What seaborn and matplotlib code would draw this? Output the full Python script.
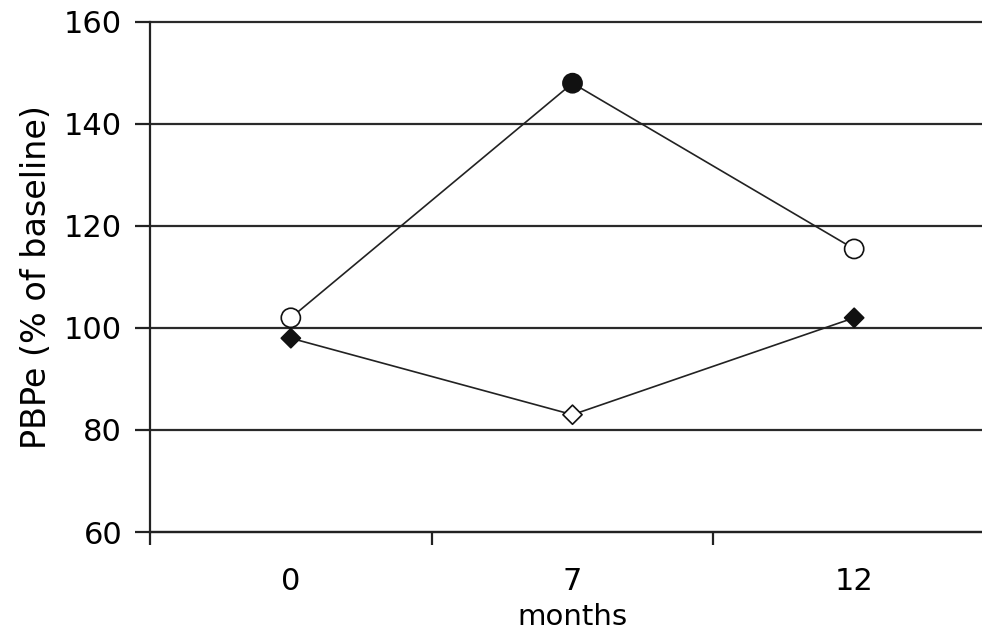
import numpy as np
import pandas as pd
import matplotlib
matplotlib.use("Agg")
import matplotlib.pyplot as plt
import seaborn as sns

# data
months = ["0", "7", "12"]
circle_values = [102, 148, 115.5]
circle_filled = [False, True, False]
diamond_values = [98, 83, 102]
diamond_filled = [True, False, True]

sns.set_style("white")
plt.rcParams["font.family"] = ["DejaVu Sans"]
plt.rcParams["text.color"] = "black"
plt.rcParams["axes.labelcolor"] = "black"
plt.rcParams["xtick.labelcolor"] = "black"
plt.rcParams["ytick.labelcolor"] = "black"

df = pd.DataFrame({
    "pos": list(range(len(months))) * 2,
    "value": circle_values + diamond_values,
    "series": ["circle"] * len(months) + ["diamond"] * len(months),
})

fig = plt.figure(figsize=(9.82, 6.30), dpi=100)
ax = fig.add_axes([150 / 982, 1 - 532 / 630, 845 / 982, 510 / 630])

sns.lineplot(data=df, x="pos", y="value", units="series", estimator=None,
             color="#222222", linewidth=1.2, ax=ax, legend=False, zorder=3)

x = np.arange(len(months))
ax.scatter(x, circle_values, marker="o", s=190, linewidths=1.2,
           edgecolors="#111111",
           facecolors=["#111111" if f else "white" for f in circle_filled],
           zorder=4)
ax.scatter(x, diamond_values, marker="D", s=95, linewidths=1.2,
           edgecolors="#111111",
           facecolors=["#111111" if f else "white" for f in diamond_filled],
           zorder=4)

ax.set_xlim(-0.5, 2.5)
ax.set_ylim(60, 160)
ax.set_yticks([60, 80, 100, 120, 140, 160])
ax.grid(axis="y", color="#2a2a2a", linewidth=1.6)
ax.set_axisbelow(True)
for gl in ax.get_ygridlines():
    gl.set_clip_on(False)

ax.set_xticks(x)
ax.set_xticklabels(months)
ax.set_xticks([-0.5, 0.5, 1.5, 2.5], minor=True)
ax.tick_params(axis="x", which="major", length=0, pad=25, labelsize=22)
ax.tick_params(axis="x", which="minor", length=9, width=1.6, direction="out",
               color="#222222", bottom=True)
ax.tick_params(axis="y", length=11, width=1.6, direction="out",
               color="#222222", labelsize=22, pad=9, left=True)

for side in ["top", "right"]:
    ax.spines[side].set_visible(False)
for side in ["left", "bottom"]:
    ax.spines[side].set_color("#222222")
    ax.spines[side].set_linewidth(1.6)

ax.set_xlabel("months", fontsize=21, labelpad=5)
ax.set_ylabel("PBPe (% of baseline)", fontsize=24, labelpad=8)

fig.savefig("out.png", dpi=100)
